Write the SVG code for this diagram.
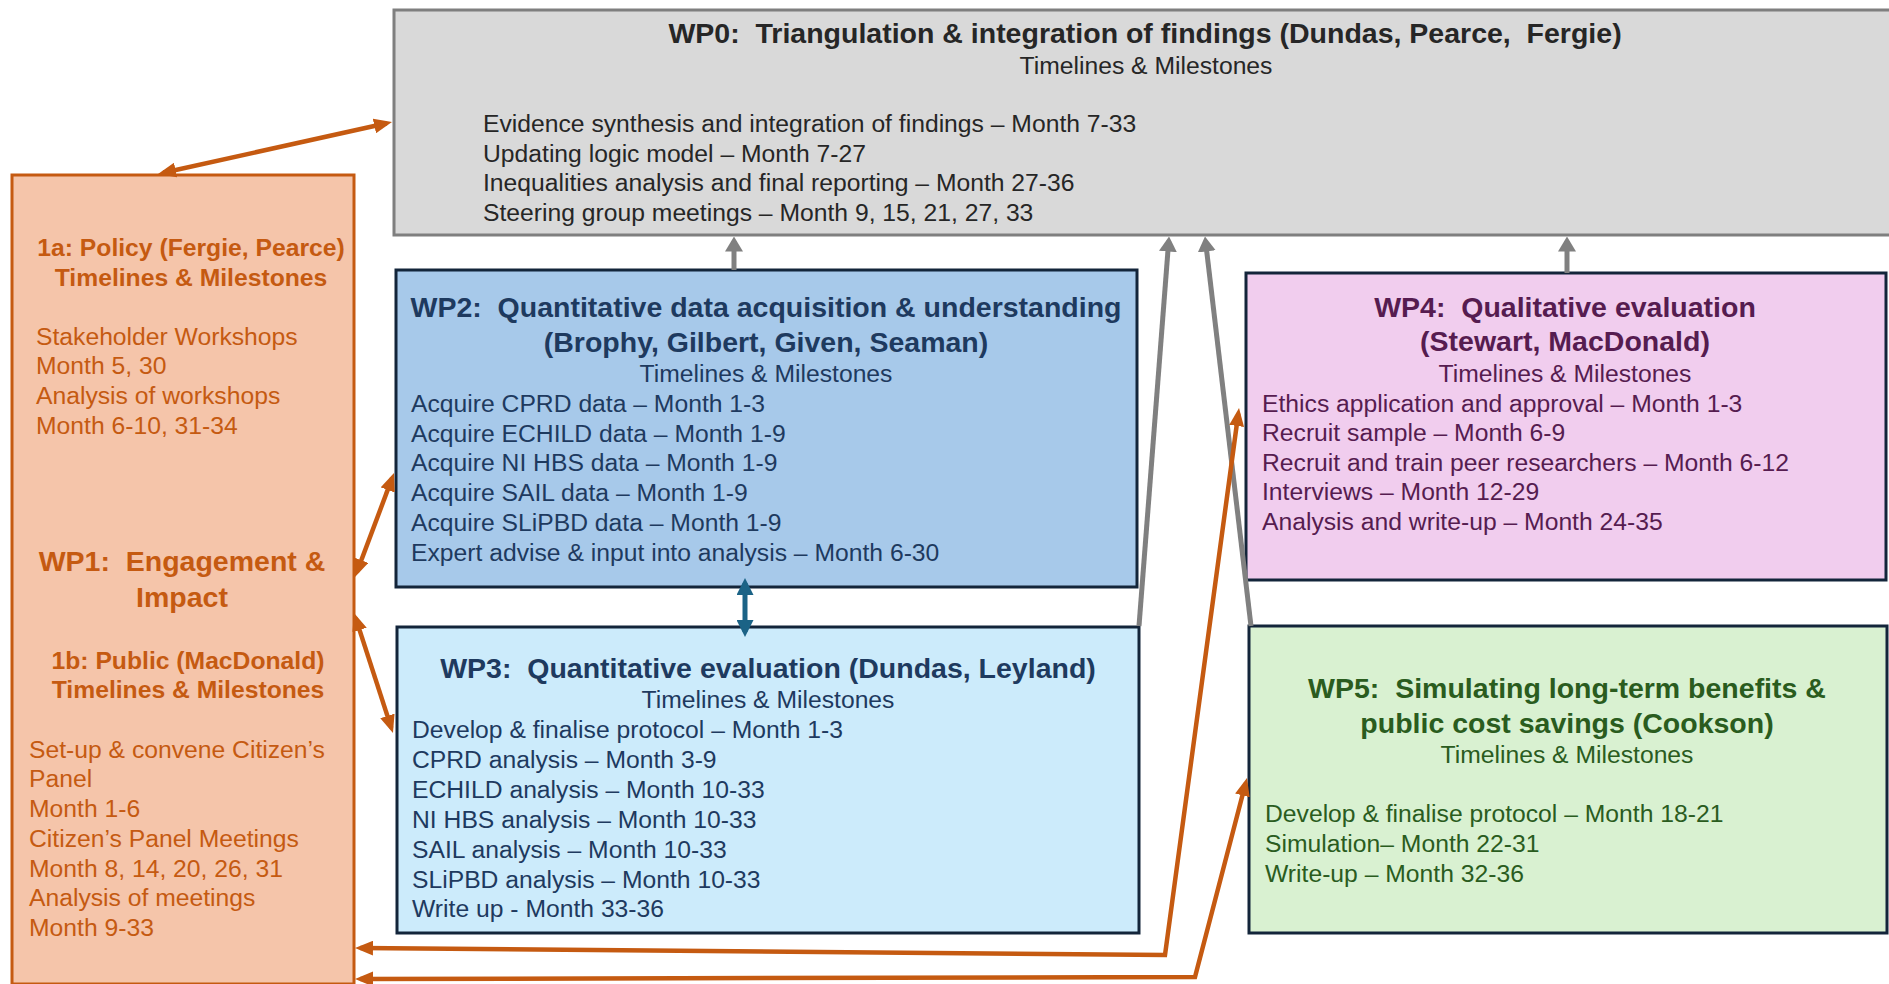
<svg xmlns="http://www.w3.org/2000/svg" width="1889" height="984" viewBox="0 0 1889 984">
  <style>
    text { font-family: "Liberation Sans", Arial, sans-serif; white-space: pre; }
    .h { font-size: 28.5px; font-weight: bold; text-anchor: middle; }
    .hs { font-size: 24.7px; font-weight: bold; text-anchor: middle; }
    .s { font-size: 24.7px; text-anchor: middle; }
    .b { font-size: 24.7px; }
    .box { stroke: #13253A; stroke-width: 3; }
    .orange { fill: none; stroke: #C55A11; stroke-width: 4.5; marker-start: url(#ah-orange); marker-end: url(#ah-orange); }
    .grey { fill: none; stroke: #808080; stroke-width: 5; marker-end: url(#ah-grey); }
    .blue { fill: none; stroke: #1B6386; stroke-width: 5; marker-start: url(#ah-blue); marker-end: url(#ah-blue); }
  </style>
  <defs>
    <marker id="ah-orange" viewBox="0 0 18 15" refX="12.6" refY="7.5" markerWidth="18" markerHeight="15" markerUnits="userSpaceOnUse" orient="auto-start-reverse">
      <path d="M0,0 L18,7.5 L0,15 z" fill="#C55A11"/>
    </marker>
    <marker id="ah-grey" viewBox="0 0 15 18" refX="10.5" refY="9" markerWidth="15" markerHeight="18" markerUnits="userSpaceOnUse" orient="auto">
      <path d="M0,0 L15,9 L0,18 z" fill="#808080"/>
    </marker>
    <marker id="ah-blue" viewBox="0 0 17 17" refX="12" refY="8.5" markerWidth="17" markerHeight="17" markerUnits="userSpaceOnUse" orient="auto-start-reverse">
      <path d="M0,0 L17,8.5 L0,17 z" fill="#1B6386"/>
    </marker>
  </defs>

  <rect width="1889" height="984" fill="#FFFFFF"/>

  <!-- WP0: integration box across the top -->
  <g id="wp0">
    <rect x="394" y="10" width="1502" height="225" fill="#D9D9D9" stroke="#7F7F7F" stroke-width="3"/>
    <g fill="#262626">
      <text class="h" x="1145" y="43">WP0:  Triangulation &amp; integration of findings (Dundas, Pearce,  Fergie)</text>
      <text class="s" x="1146" y="74">Timelines &amp; Milestones</text>
      <text class="b" x="483" y="132">Evidence synthesis and integration of findings – Month 7-33</text>
      <text class="b" x="483" y="162">Updating logic model – Month 7-27</text>
      <text class="b" x="483" y="191">Inequalities analysis and final reporting – Month 27-36</text>
      <text class="b" x="483" y="221">Steering group meetings – Month 9, 15, 21, 27, 33</text>
    </g>
  </g>

  <!-- WP1: engagement column on the left -->
  <g id="wp1">
    <rect x="12" y="175" width="342" height="809" fill="#F5C5AA" stroke="#C55A11" stroke-width="3"/>
    <g fill="#C55A11">
      <text class="hs" x="191" y="256">1a: Policy (Fergie, Pearce)</text>
      <text class="hs" x="191" y="286">Timelines &amp; Milestones</text>
      <text class="b" x="36" y="345">Stakeholder Workshops</text>
      <text class="b" x="36" y="374">Month 5, 30</text>
      <text class="b" x="36" y="404">Analysis of workshops</text>
      <text class="b" x="36" y="434">Month 6-10, 31-34</text>
      <text class="h" x="182" y="571">WP1:  Engagement &amp;</text>
      <text class="h" x="182" y="607">Impact</text>
      <text class="hs" x="188" y="669">1b: Public (MacDonald)</text>
      <text class="hs" x="188" y="698">Timelines &amp; Milestones</text>
      <text class="b" x="29" y="758">Set-up &amp; convene Citizen’s</text>
      <text class="b" x="29" y="787">Panel</text>
      <text class="b" x="29" y="817">Month 1-6</text>
      <text class="b" x="29" y="847">Citizen’s Panel Meetings</text>
      <text class="b" x="29" y="877">Month 8, 14, 20, 26, 31</text>
      <text class="b" x="29" y="906">Analysis of meetings</text>
      <text class="b" x="29" y="936">Month 9-33</text>
    </g>
  </g>

  <!-- WP2: data acquisition -->
  <g id="wp2">
    <rect class="box" x="396" y="270" width="741" height="317" fill="#A7C9EA"/>
    <g fill="#1E3A5F">
      <text class="h" x="766" y="317">WP2:  Quantitative data acquisition &amp; understanding</text>
      <text class="h" x="766" y="352">(Brophy, Gilbert, Given, Seaman)</text>
      <text class="s" x="766" y="382">Timelines &amp; Milestones</text>
      <text class="b" x="411" y="412">Acquire CPRD data – Month 1-3</text>
      <text class="b" x="411" y="442">Acquire ECHILD data – Month 1-9</text>
      <text class="b" x="411" y="471">Acquire NI HBS data – Month 1-9</text>
      <text class="b" x="411" y="501">Acquire SAIL data – Month 1-9</text>
      <text class="b" x="411" y="531">Acquire SLiPBD data – Month 1-9</text>
      <text class="b" x="411" y="561">Expert advise &amp; input into analysis – Month 6-30</text>
    </g>
  </g>

  <!-- WP3: quantitative evaluation -->
  <g id="wp3">
    <rect class="box" x="397" y="627" width="742" height="306" fill="#CCEBFB"/>
    <g fill="#1E3A5F">
      <text class="h" x="768" y="678">WP3:  Quantitative evaluation (Dundas, Leyland)</text>
      <text class="s" x="768" y="708">Timelines &amp; Milestones</text>
      <text class="b" x="412" y="738">Develop &amp; finalise protocol – Month 1-3</text>
      <text class="b" x="412" y="768">CPRD analysis – Month 3-9</text>
      <text class="b" x="412" y="798">ECHILD analysis – Month 10-33</text>
      <text class="b" x="412" y="828">NI HBS analysis – Month 10-33</text>
      <text class="b" x="412" y="858">SAIL analysis – Month 10-33</text>
      <text class="b" x="412" y="888">SLiPBD analysis – Month 10-33</text>
      <text class="b" x="412" y="917">Write up - Month 33-36</text>
    </g>
  </g>

  <!-- WP4: qualitative evaluation -->
  <g id="wp4">
    <rect class="box" x="1246" y="273" width="640" height="307" fill="#F1CDEE"/>
    <g fill="#561C50">
      <text class="h" x="1565" y="317">WP4:  Qualitative evaluation</text>
      <text class="h" x="1565" y="351">(Stewart, MacDonald)</text>
      <text class="s" x="1565" y="382">Timelines &amp; Milestones</text>
      <text class="b" x="1262" y="412">Ethics application and approval – Month 1-3</text>
      <text class="b" x="1262" y="441">Recruit sample – Month 6-9</text>
      <text class="b" x="1262" y="471">Recruit and train peer researchers – Month 6-12</text>
      <text class="b" x="1262" y="500">Interviews – Month 12-29</text>
      <text class="b" x="1262" y="530">Analysis and write-up – Month 24-35</text>
    </g>
  </g>

  <!-- WP5: long-term simulation -->
  <g id="wp5">
    <rect class="box" x="1249" y="626" width="638" height="307" fill="#D9F1D1"/>
    <g fill="#2A5C1E">
      <text class="h" x="1567" y="698">WP5:  Simulating long-term benefits &amp;</text>
      <text class="h" x="1567" y="733">public cost savings (Cookson)</text>
      <text class="s" x="1567" y="763">Timelines &amp; Milestones</text>
      <text class="b" x="1265" y="822">Develop &amp; finalise protocol – Month 18-21</text>
      <text class="b" x="1265" y="852">Simulation– Month 22-31</text>
      <text class="b" x="1265" y="882">Write-up – Month 32-36</text>
    </g>
  </g>

  <!-- connectors -->
  <g id="connectors">
    <path class="orange" d="M163.3,172.8 L386.7,123.2"/>
    <path class="orange" d="M356.9,572 L392.1,478.1"/>
    <path class="orange" d="M355.7,618.1 L391.3,727.9"/>
    <path class="blue" d="M745,583 L745,632"/>
    <path class="grey" d="M734,270 L734,241"/>
    <path class="grey" d="M1139,626 L1168.7,241"/>
    <path class="grey" d="M1251,626 L1205.5,241"/>
    <path class="grey" d="M1567,273 L1567,241"/>
    <path class="orange" d="M360.4,948 L1165,955 L1238.3,413.4"/>
    <path class="orange" d="M360.4,979 L1195,977 L1245.6,783.2"/>
  </g>
</svg>
